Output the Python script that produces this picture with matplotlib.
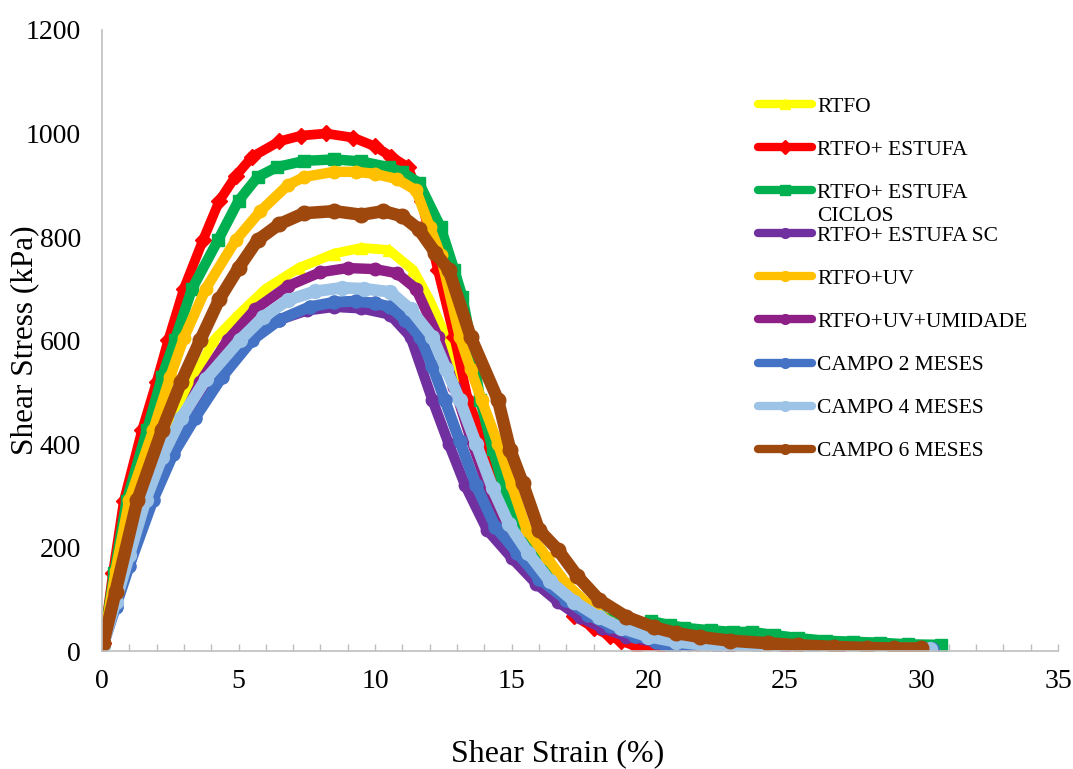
import matplotlib
matplotlib.use('Agg')
import matplotlib.pyplot as plt
from matplotlib.ticker import MultipleLocator

plt.rcParams['font.family'] = ['Liberation Serif', 'DejaVu Serif']

# ---- data (shear strain %, shear stress kPa) ----
x_rtfo = [0.05, 0.5, 1.0, 1.5, 2.0, 2.55, 3.3, 4.1, 5.0, 6.0, 7.2, 8.5, 9.5, 10.5, 11.4, 12.0, 12.6, 13.1,
          13.4, 14.0, 14.6, 15.2, 16.0, 17.0, 18.0, 19.0, 20.0, 22.0, 24.0, 26.0, 28.0, 30.0]
y_rtfo = [15, 110, 210, 295, 365, 427, 520, 601, 650, 700, 740, 768, 779, 775, 736, 678, 607, 530,
          480, 400, 320, 250, 185, 120, 72, 40, 22, 12, 8, 6, 5, 4]

x_est = [0.05, 0.4, 0.8, 1.47, 2.0, 2.43, 3.0, 3.7, 4.3, 4.9, 5.5, 6.5, 7.3, 8.2, 9.2, 10.0, 10.6, 11.2,
         11.7, 12.3, 12.9, 13.4, 14.1, 14.6, 15.05, 15.9, 16.6, 17.3, 18.0, 18.6, 19.0, 19.6, 20.5,
         22.0, 24.0, 26.0, 28.0, 29.5]
y_est = [15, 150, 290, 427, 520, 601, 700, 794, 870, 918, 955, 985, 996, 1000, 992, 975, 955, 935,
         870, 736, 607, 485, 388, 310, 234, 190, 125, 68, 45, 30, 20, 8, 5,
         5, 6, 5, 8, 6]

x_cic = [0.05, 0.45, 0.9, 1.65, 2.2, 2.67, 3.3, 4.25, 5.0, 5.7, 6.4, 7.4, 8.5, 9.5, 10.5, 11.0, 11.6,
         12.4, 12.9, 13.2, 13.5, 13.85, 14.3, 14.8, 15.3, 16.0, 16.7, 17.4, 18.2, 19.0, 19.6, 20.1,
         20.8, 21.3, 22.3, 23.1, 23.8, 24.6, 25.5, 26.5, 27.5, 28.5, 29.5, 30.7]
y_cic = [15, 150, 290, 427, 530, 601, 700, 794, 870, 916, 935, 947, 950, 946, 935, 925, 905,
         819, 736, 684, 600, 485, 390, 300, 234, 190, 140, 100, 70, 52, 45, 58,
         50, 45, 40, 37, 37, 31, 25, 20, 18, 16, 13, 12]

x_sc = [0.05, 0.5, 1.0, 1.75, 2.5, 3.2, 4.2, 5.3, 6.5, 7.5, 8.5, 9.5, 10.55, 11.3, 12.1, 12.7, 13.3,
        14.1, 15.0, 15.9, 16.7, 17.5, 18.3, 19.2, 20.5, 22.0, 24.0, 26.0, 28.0, 30.0]
y_sc = [12, 90, 175, 292, 390, 460, 540, 601, 640, 658, 665, 662, 650, 607, 485, 400, 320,
        234, 180, 130, 95, 65, 45, 28, 15, 10, 7, 5, 5, 4]

x_uv = [0.05, 0.5, 1.0, 1.88, 2.5, 3.0, 3.8, 4.9, 5.8, 6.8, 7.4, 8.5, 9.3, 10.0, 10.8, 11.5, 12.0,
        12.4, 13.1, 13.5, 13.9, 14.5, 15.0, 15.55, 16.3, 17.0, 17.8, 18.6, 19.5, 20.5, 22.0, 24.0,
        26.0, 28.0, 30.0]
y_uv = [15, 155, 292, 427, 530, 605, 700, 794, 850, 900, 916, 926, 926, 922, 912, 890, 820,
        765, 607, 545, 485, 400, 320, 234, 180, 130, 90, 55, 35, 20, 12, 8,
        6, 5, 4]

x_um = [0.05, 0.5, 1.0, 1.5, 2.0, 2.75, 3.6, 4.6, 5.6, 6.8, 8.0, 9.0, 10.0, 10.8, 11.5, 12.3, 12.9,
        13.5, 14.1, 14.7, 15.3, 16.1, 17.0, 17.9, 18.8, 19.8, 21.0, 23.0, 25.0, 27.0, 29.0, 30.2]
y_um = [15, 105, 200, 280, 350, 427, 520, 601, 660, 705, 732, 740, 738, 730, 700, 607, 510,
        410, 320, 250, 200, 150, 100, 65, 42, 25, 15, 10, 7, 5, 4, 4]

x_c2 = [0.05, 0.5, 1.0, 1.87, 2.6, 3.4, 4.4, 5.5, 6.5, 7.6, 8.5, 9.3, 10.0, 10.55, 11.1, 11.65, 12.1,
        12.55, 13.1, 13.7, 14.4, 15.2, 16.0, 17.0, 17.8, 18.6, 19.5, 20.3, 20.9, 21.5, 22.5, 24.0,
        26.0, 28.0, 30.4]
y_c2 = [12, 85, 165, 292, 380, 450, 530, 601, 640, 665, 674, 676, 672, 665, 640, 607, 550,
        485, 405, 320, 240, 190, 140, 99, 70, 48, 30, 18, 0, 14, 10, 8,
        6, 5, 4]

x_c4 = [0.05, 0.5, 1.0, 1.6, 2.2, 2.9, 3.8, 5.05, 5.9, 6.8, 7.8, 8.8, 9.6, 10.55, 11.3, 12.1, 12.6,
        13.1, 13.7, 14.3, 14.9, 15.6, 16.4, 17.3, 18.2, 19.0, 20.0, 21.0, 22.0, 24.0, 26.0, 28.0, 30.3]
y_c4 = [12, 95, 185, 292, 375, 450, 525, 601, 645, 678, 695, 702, 700, 694, 660, 607, 545,
        485, 400, 315, 245, 190, 135, 95, 65, 45, 28, 18, 12, 8, 6, 5, 4]

x_c6 = [0.05, 0.5, 1.3, 2.2, 2.9, 3.6, 4.3, 5.0, 5.7, 6.5, 7.4, 8.5, 9.5, 10.3, 11.0, 11.6, 12.2,
        12.7, 13.5, 14.5, 14.95, 15.4, 16.0, 16.7, 17.4, 18.2, 19.2, 20.2, 21.0, 21.9, 23.0, 24.4,
        25.5, 26.8, 28.0, 29.0, 30.0]
y_c6 = [15, 115, 292, 427, 520, 601, 680, 740, 794, 825, 846, 850, 843, 850, 840, 815, 770,
        736, 607, 485, 388, 325, 234, 195, 145, 99, 66, 46, 35, 27, 20, 15,
        11, 8, 6, 5, 5]

series = [
    ('RTFO', x_rtfo, y_rtfo, '#FFFF00', '^', 7.0),
    ('RTFO+ ESTUFA', x_est, y_est, '#FF0000', 'D', 7.0),
    ('RTFO+ ESTUFA', x_cic, y_cic, '#00B050', 's', 7.5),
    ('RTFO+ ESTUFA SC', x_sc, y_sc, '#7030A0', 'o', 7.5),
    ('RTFO+UV', x_uv, y_uv, '#FFC000', 'o', 7.5),
    ('RTFO+UV+UMIDADE', x_um, y_um, '#8E1F86', 'o', 7.5),
    ('CAMPO 2 MESES', x_c2, y_c2, '#4472C4', 'o', 8.0),
    ('CAMPO 4 MESES', x_c4, y_c4, '#9DC3E6', 'o', 8.5),
    ('CAMPO 6 MESES', x_c6, y_c6, '#9E480E', 'o', 9.0),
]

fig = plt.figure(figsize=(10.73, 7.69), dpi=100)
ax = fig.add_axes([0.095, 0.1534, 0.891, 0.8076])

handles = []
for label, xs, ys, color, mk, lw in series:
    line, = ax.plot(xs, ys, color=color, lw=lw, marker=mk, ms=lw + 1.5, mec=color, mfc=color,
                    solid_joinstyle='round', solid_capstyle='round', label=label)
    handles.append(line)

ax.set_xlim(0, 35)
ax.set_ylim(0, 1200)
ax.xaxis.set_major_locator(MultipleLocator(5))
ax.xaxis.set_minor_locator(MultipleLocator(1))
ax.yaxis.set_major_locator(MultipleLocator(200))

for side in ['top', 'right']:
    ax.spines[side].set_visible(False)
for side in ['bottom', 'left']:
    ax.spines[side].set_color('#BFBFBF')
    ax.spines[side].set_linewidth(1.2)

ax.tick_params(axis='x', which='both', direction='in', length=5, width=1, color='#BFBFBF',
               labelsize=20, pad=13)
ax.tick_params(axis='y', which='both', length=0, labelsize=20, pad=15)

ax.set_xlabel('Shear Strain (%)', fontsize=23)
ax.set_ylabel('Shear Stress (kPa)', fontsize=22.5)
ax.xaxis.set_label_coords(0.477, -0.142)
ax.yaxis.set_label_coords(-0.066, 0.5)

leg = ax.legend(handles=handles, loc='upper left', bbox_to_anchor=(0.686, 0.893), frameon=False,
                fontsize=15.5, handlelength=2.5, handletextpad=0.25, labelspacing=1.07,
                borderaxespad=0, borderpad=0)
for h in leg.legend_handles:
    h.set_linewidth(6)
    h.set_markersize(7)

# second line of the wrapped legend label, anchored under its first line
fig.canvas.draw()
ax.annotate('CICLOS', xy=(0, 0), xycoords=leg.get_texts()[2], xytext=(0, -3),
            textcoords='offset points', ha='left', va='top', fontsize=15.5, zorder=10)

fig.savefig('out.png', dpi=100)
